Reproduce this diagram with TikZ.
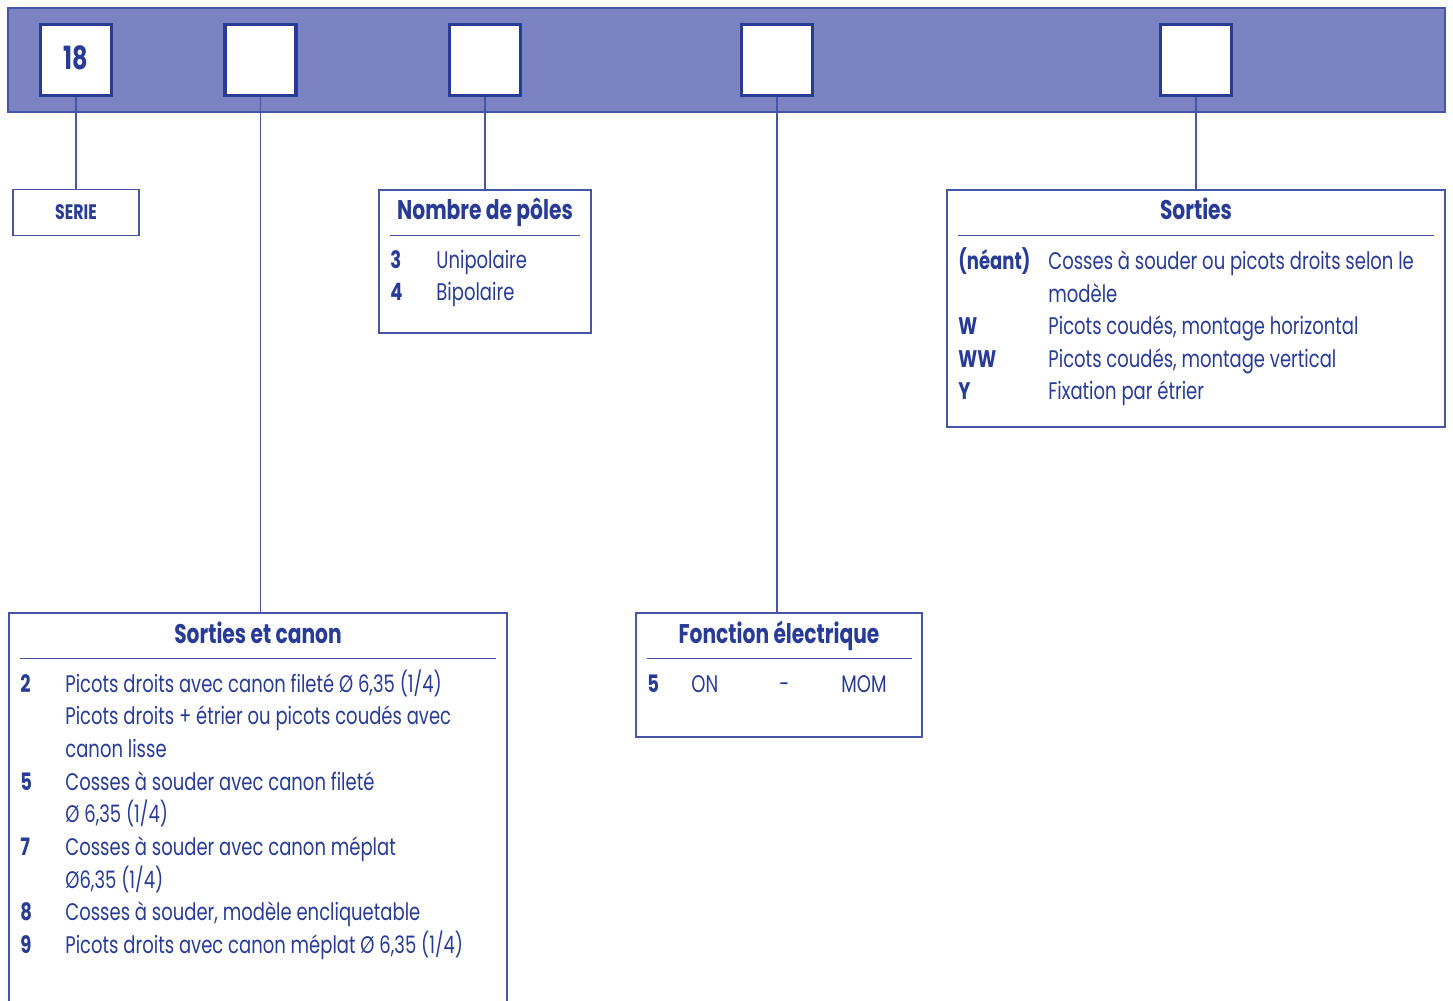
\documentclass[tikz,border=0pt]{standalone}
\usepackage{fontspec}
\setmainfont{Poppins}[FakeStretch=0.75]
\definecolor{txtblue}{RGB}{40,60,150}
\definecolor{lineblue}{RGB}{70,85,165}
\definecolor{bandfill}{RGB}{123,131,195}
\tikzset{
  codebox/.style = {draw = txtblue, line width = 1.7pt, fill = white, minimum width = 35.5pt, minimum height = 35.5pt, inner sep = 0pt, text = txtblue, font = \fontsize{16}{18}\selectfont\bfseries},
  infobox/.style = {draw = lineblue, line width = 0.75pt, fill = white, inner sep = 0pt},
  head/.style = {anchor = base, text = txtblue, inner sep = 0pt, font = \fontsize{13.5}{16}\selectfont\bfseries},
  key/.style = {anchor = base west, text = txtblue, inner sep = 0pt, font = \fontsize{12}{14}\selectfont\bfseries},
  item/.style = {anchor = base west, text = txtblue, inner sep = 0pt, font = \fontsize{12}{14}\selectfont},
  link/.style = {draw = lineblue, line width = 0.7pt},
  rule/.style = {draw = lineblue, line width = 0.5pt}
}
\begin{document}
\begin{tikzpicture}[x = 0.5pt, y = -0.5pt]
\useasboundingbox (0, 0) rectangle (1453, 1001);
%\draw [very thin, color = gray](0, 0) grid [step = 100] (1453, 1001);
\draw [fill = bandfill, draw = lineblue, line width = 0.75pt] (8, 8) rectangle (1445, 112);
\node [codebox] (c1) at (76, 60) {\raisebox{2pt}{18}};
\node [codebox] (c2) at (260.5, 60) {};
\node [codebox] (c3) at (485, 60) {};
\node [codebox] (c4) at (777, 60) {};
\node [codebox] (c5) at (1196, 60) {};

% SERIE
\node [infobox, minimum width = 63pt, minimum height = 23pt, text = txtblue, font = \fontsize{10.5}{12}\selectfont\bfseries] (serie) at (76, 212.5) {SERIE};

% Nombre de poles
\node [infobox, minimum width = 106pt, minimum height = 71.5pt] (np) at (485, 261.5) {};
\node [head] (nphead) at (485, 219) {Nombre de pôles};
\draw [rule] (390, 235) -- (580, 235);
\node [key] (npk3) at (390, 268) {3};
\node [item] (npt3) at (436, 268) {Unipolaire};
\node [key] (npk4) at (390, 300.5) {4};
\node [item] (npt4) at (436, 300.5) {Bipolaire};

% Sorties
\node [infobox, minimum width = 249pt, minimum height = 118.5pt] (so) at (1196, 308.5) {};
\node [head] (sohead) at (1196, 219) {Sorties};
\draw [rule] (958, 235) -- (1434, 235);
\node [key] (sok0) at (958, 269.5) {(néant)};
\node [item] (sot0) at (1048, 269.5) {Cosses à souder ou picots droits selon le};
\node [item] (sot1) at (1048, 302) {modèle};
\node [key] (sokW) at (958, 334.5) {W};
\node [item] (sotW) at (1048, 334.5) {Picots coudés, montage horizontal};
\node [key] (sokWW) at (958, 367) {WW};
\node [item] (sotWW) at (1048, 367) {Picots coudés, montage vertical};
\node [key] (sokY) at (958, 399.5) {Y};
\node [item] (sotY) at (1048, 399.5) {Fixation par étrier};

% Sorties et canon
\node [infobox, minimum width = 249pt, minimum height = 200pt] (sc) at (258, 813) {};
\node [head] (schead) at (258, 643) {Sorties et canon};
\draw [rule] (20, 658) -- (496, 658);
\node [key] (sck2) at (20, 692) {2};
\node [item] (sct2) at (65, 692) {Picots droits avec canon fileté Ø 6,35 (1/4)};
\node [item] (sct2b) at (65, 724.7) {Picots droits + étrier ou picots coudés avec};
\node [item] (sct2c) at (65, 757.4) {canon lisse};
\node [key] (sck5) at (20, 790.1) {5};
\node [item] (sct5) at (65, 790.1) {Cosses à souder avec canon fileté};
\node [item] (sct5b) at (65, 822.8) {Ø 6,35 (1/4)};
\node [key] (sck7) at (20, 855.5) {7};
\node [item] (sct7) at (65, 855.5) {Cosses à souder avec canon méplat};
\node [item] (sct7b) at (65, 888.2) {Ø6,35 (1/4)};
\node [key] (sck8) at (20, 920.9) {8};
\node [item] (sct8) at (65, 920.9) {Cosses à souder, modèle encliquetable};
\node [key] (sck9) at (20, 953.6) {9};
\node [item] (sct9) at (65, 953.6) {Picots droits avec canon méplat Ø 6,35 (1/4)};

% Fonction electrique
\node [infobox, minimum width = 143pt, minimum height = 62pt] (fe) at (779, 675) {};
\node [head] (fehead) at (779, 643) {Fonction électrique};
\draw [rule] (647, 658) -- (912, 658);
\node [key] (fek5) at (647, 692) {5};
\node [item] (feon) at (691, 692) {ON};
\node [item] (fedash) at (779, 692) {-};
\node [item] (femom) at (841, 692) {MOM};

% links
\draw [link] (c1.south) -- (c1.south |- serie.north);
\draw [link] (c2.south) -- (c2.south |- sc.north);
\draw [link] (c3.south) -- (c3.south |- np.north);
\draw [link] (c4.south) -- (c4.south |- fe.north);
\draw [link] (c5.south) -- (c5.south |- so.north);
\end{tikzpicture}
\end{document}
